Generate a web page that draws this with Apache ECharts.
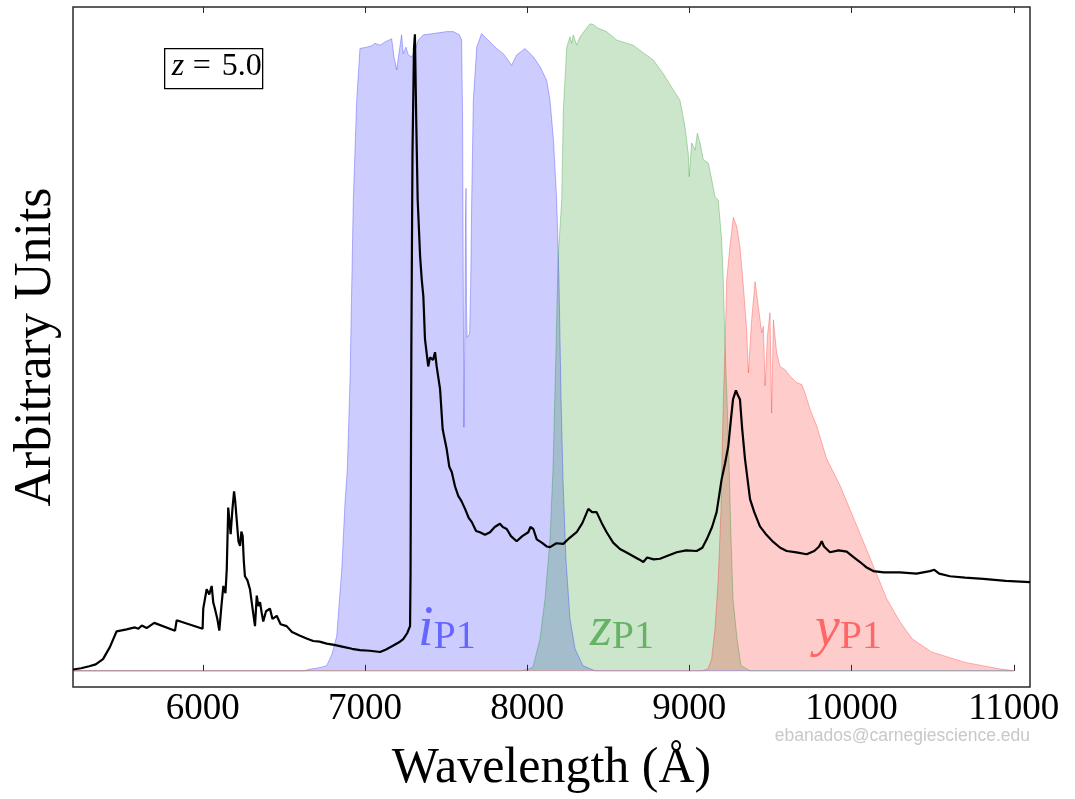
<!DOCTYPE html>
<html>
<head>
<meta charset="utf-8">
<title>Quasar spectrum at z = 5.0 with Pan-STARRS filters</title>
<script src="https://cdn.jsdelivr.net/npm/echarts@6/dist/echarts.min.js"></script>
<style>
  html, body { margin: 0; padding: 0; background: #ffffff; }
  #chart { width: 1075px; height: 799px; }
</style>
</head>
<body>
<div id="chart"></div>
<script>
// Wavelength tick marks (Angstrom)
const wavelengthTicks = [6000, 7000, 8000, 9000, 10000, 11000];

// Composite quasar spectrum redshifted to z = 5.0: [wavelength (A), flux (arbitrary)]
const quasarSpectrum = [
  [5200,0.002],[5250,0.004],[5300,0.007],[5340,0.010],[5385,0.018],[5428,0.037],[5469,0.061],
  [5531,0.064],[5562,0.066],[5582,0.067],[5603,0.065],[5624,0.070],[5654,0.066],[5701,0.074],
  [5829,0.062],[5839,0.078],[5999,0.065],[6003,0.096],[6024,0.126],[6040,0.118],[6055,0.131],
  [6065,0.105],[6075,0.096],[6090,0.080],[6102,0.062],[6115,0.100],[6127,0.131],[6140,0.120],
  [6148,0.157],[6157,0.252],[6165,0.230],[6172,0.211],[6183,0.250],[6193,0.277],[6200,0.262],
  [6209,0.234],[6220,0.200],[6230,0.193],[6238,0.215],[6246,0.208],[6253,0.170],[6260,0.146],
  [6275,0.140],[6291,0.126],[6305,0.100],[6322,0.069],[6333,0.116],[6343,0.100],[6353,0.106],
  [6363,0.090],[6373,0.076],[6390,0.092],[6414,0.096],[6430,0.080],[6456,0.085],[6480,0.072],
  [6517,0.069],[6550,0.060],[6600,0.054],[6640,0.050],[6681,0.046],[6720,0.045],[6764,0.042],
  [6810,0.040],[6866,0.037],[6920,0.034],[6969,0.032],[7030,0.031],[7093,0.029],[7130,0.033],
  [7175,0.039],[7210,0.044],[7236,0.049],[7260,0.058],[7278,0.069],[7281,0.150],[7286,0.500],
  [7293,0.800],[7302,0.960],[7308,0.983],[7316,0.850],[7325,0.727],[7340,0.640],[7350,0.604],
  [7360,0.578],[7370,0.512],[7390,0.470],[7401,0.484],[7420,0.480],[7432,0.492],[7442,0.470],
  [7463,0.435],[7479,0.373],[7504,0.342],[7520,0.315],[7535,0.307],[7555,0.285],[7575,0.270],
  [7595,0.262],[7617,0.250],[7640,0.236],[7658,0.230],[7685,0.216],[7709,0.214],[7740,0.210],
  [7771,0.214],[7800,0.222],[7832,0.227],[7850,0.222],[7874,0.219],[7900,0.208],[7935,0.200],
  [7970,0.208],[8007,0.214],[8020,0.222],[8038,0.219],[8059,0.203],[8090,0.198],[8120,0.192],
  [8141,0.191],[8180,0.197],[8223,0.196],[8260,0.205],[8305,0.214],[8340,0.228],[8377,0.250],
  [8400,0.245],[8428,0.245],[8460,0.228],[8490,0.214],[8530,0.198],[8572,0.188],[8610,0.183],
  [8654,0.177],[8690,0.172],[8716,0.168],[8740,0.175],[8780,0.172],[8819,0.173],[8870,0.178],
  [8922,0.183],[8980,0.186],[9045,0.185],[9080,0.190],[9107,0.203],[9140,0.222],[9168,0.245],
  [9199,0.296],[9220,0.320],[9240,0.347],[9255,0.385],[9269,0.419],[9287,0.433],[9300,0.425],
  [9312,0.419],[9325,0.375],[9343,0.327],[9374,0.265],[9400,0.245],[9435,0.223],[9475,0.210],
  [9517,0.199],[9560,0.190],[9600,0.185],[9660,0.183],[9723,0.180],[9770,0.185],[9800,0.192],
  [9816,0.200],[9830,0.192],[9867,0.183],[9920,0.186],[9970,0.184],[10010,0.176],[10052,0.168],
  [10090,0.160],[10134,0.154],[10200,0.152],[10298,0.152],[10400,0.150],[10483,0.154],
  [10510,0.156],[10540,0.150],[10607,0.146],[10700,0.144],[10812,0.142],[10950,0.139],[11100,0.137]
];

// Pan-STARRS1 i-band transmission (scaled)
const filterI = [
  [5200,0],[6630,0],[6649,0.002],[6723,0.005],[6764,0.008],[6797,0.026],[6826,0.054],[6857,0.157],
  [6877,0.260],[6891,0.311],[6908,0.450],[6928,0.727],[6949,0.881],[6969,0.961],[6980,0.963],
  [7011,0.963],[7040,0.965],[7062,0.969],[7093,0.966],[7123,0.971],[7165,0.976],[7179,0.948],
  [7196,0.928],[7212,0.958],[7226,0.982],[7236,0.953],[7253,0.963],[7267,0.951],[7288,0.948],
  [7308,0.958],[7329,0.974],[7360,0.982],[7421,0.984],[7504,0.987],[7545,0.987],[7582,0.982],
  [7596,0.974],[7602,0.850],[7606,0.600],[7610,0.376],[7615,0.500],[7620,0.700],[7623,0.745],
  [7626,0.560],[7630,0.515],[7645,0.520],[7652,0.600],[7658,0.727],[7668,0.881],[7689,0.963],
  [7719,0.984],[7750,0.976],[7812,0.961],[7853,0.953],[7904,0.935],[7935,0.951],[7987,0.961],
  [8038,0.948],[8079,0.933],[8120,0.912],[8141,0.881],[8162,0.820],[8182,0.727],[8196,0.604],
  [8209,0.419],[8221,0.296],[8239,0.173],[8264,0.080],[8295,0.034],[8344,0.008],[8418,0],[11000,0]
];

// Pan-STARRS1 z-band transmission (scaled)
const filterZ = [
  [5200,0],[7960,0],[8005,0.002],[8036,0.006],[8079,0.049],[8110,0.111],[8141,0.203],[8159,0.311],
  [8178,0.496],[8190,0.635],[8213,0.727],[8223,0.866],[8244,0.963],[8264,0.979],[8274,0.969],
  [8284,0.982],[8305,0.966],[8326,0.979],[8356,0.989],[8387,0.999],[8408,0.998],[8438,0.992],
  [8490,0.987],[8552,0.974],[8614,0.969],[8654,0.966],[8696,0.958],[8778,0.943],[8839,0.922],
  [8901,0.897],[8942,0.881],[8973,0.840],[8993,0.799],[8999,0.763],[9014,0.815],[9035,0.804],
  [9049,0.830],[9066,0.815],[9086,0.789],[9117,0.784],[9138,0.758],[9158,0.732],[9178,0.727],
  [9199,0.666],[9209,0.604],[9220,0.501],[9232,0.419],[9244,0.327],[9257,0.203],[9269,0.111],
  [9294,0.049],[9318,0.008],[9374,0],[11000,0]
];

// Pan-STARRS1 y-band transmission (scaled)
const filterY = [
  [5200,0],[9080,0],[9115,0.003],[9137,0.018],[9158,0.065],[9178,0.142],[9195,0.250],[9201,0.330],
  [9210,0.420],[9220,0.501],[9230,0.604],[9250,0.655],[9271,0.700],[9292,0.686],[9312,0.655],
  [9333,0.594],[9353,0.527],[9364,0.460],[9384,0.542],[9405,0.601],[9425,0.563],[9446,0.522],
  [9456,0.532],[9467,0.440],[9481,0.517],[9497,0.553],[9507,0.398],[9518,0.542],[9538,0.491],
  [9559,0.470],[9590,0.465],[9621,0.455],[9662,0.445],[9693,0.442],[9713,0.429],[9744,0.404],
  [9785,0.378],[9847,0.327],[9929,0.286],[10032,0.224],[10134,0.162],[10217,0.111],[10300,0.075],
  [10375,0.049],[10494,0.029],[10700,0.013],[10911,0.003],[11000,0]
];

// Band names drawn inside each filter
const bandNames = ['i', 'z', 'y'];
const bandSubscript = 'P1';

const SERIF = '"Liberation Serif", "Times New Roman", serif';
const FRAME = '#2a2a2a';

const chart = echarts.init(document.getElementById('chart'), null, { renderer: 'canvas' });

function filterSeries(name, data, rgb) {
  return {
    name: name,
    type: 'line',
    data: data,
    showSymbol: false,
    symbol: 'none',
    silent: true,
    lineStyle: { width: 1, color: 'rgba(' + rgb + ',0.28)' },
    areaStyle: { color: 'rgba(' + rgb + ',0.2)', opacity: 1, origin: 'auto' },
    z: 2
  };
}

const option = {
  animation: false,
  backgroundColor: '#ffffff',
  grid: {
    left: 73, right: 45, top: 7, bottom: 111,
    show: true, borderColor: FRAME, borderWidth: 1.5, backgroundColor: 'transparent'
  },
  xAxis: [
    {
      type: 'value', min: 5200, max: 11100, position: 'bottom',
      name: 'Wavelength (Å)', nameLocation: 'middle', nameGap: 57,
      nameTextStyle: { fontFamily: SERIF, fontSize: 50, color: '#000', lineHeight: 50 },
      axisLine: { show: false },
      splitLine: { show: false },
      axisTick: { show: true, inside: true, length: 6, customValues: wavelengthTicks,
                  lineStyle: { color: FRAME, width: 1 } },
      axisLabel: { show: true, customValues: wavelengthTicks, margin: 4,
                   formatter: function (v) { return String(v); },
                   fontFamily: SERIF, fontSize: 37, lineHeight: 37, color: '#000' }
    },
    {
      type: 'value', min: 5200, max: 11100, position: 'top',
      axisLine: { show: false },
      splitLine: { show: false },
      axisTick: { show: true, inside: true, length: 6, customValues: wavelengthTicks,
                  lineStyle: { color: FRAME, width: 1 } },
      axisLabel: { show: false }
    }
  ],
  yAxis: {
    type: 'value', min: -0.025, max: 1.025,
    name: 'Arbitrary Units', nameLocation: 'middle', nameGap: 11, nameRotate: 90,
    nameTextStyle: { fontFamily: SERIF, fontSize: 52, color: '#000', lineHeight: 52 },
    axisLine: { show: false }, axisTick: { show: false },
    axisLabel: { show: false }, splitLine: { show: false }
  },
  series: [
    filterSeries('i_P1', filterI, '0,0,255'),
    filterSeries('z_P1', filterZ, '0,128,0'),
    filterSeries('y_P1', filterY, '255,0,0'),
    {
      name: 'spectrum',
      type: 'line',
      data: quasarSpectrum,
      showSymbol: false,
      symbol: 'none',
      silent: true,
      lineStyle: { color: '#000', width: 2.2 },
      z: 5
    }
  ]
};

chart.setOption(option);

// Annotations: band labels anchored in data space, redshift box and credit line
const bandLabelAnchors = [[7327, 0.020], [8387, 0.020], [9774, 0.020]];
const bandLabelColors = ['rgba(0,0,255,0.5)', 'rgba(0,128,0,0.5)', 'rgba(255,0,0,0.5)'];

const graphics = bandNames.map(function (b, k) {
  const p = chart.convertToPixel({ gridIndex: 0 }, bandLabelAnchors[k]);
  return {
    type: 'text', x: p[0], y: p[1], z: 10, silent: true,
    style: {
      text: '{m|' + b + '}{s|' + bandSubscript + '}',
      align: 'left', verticalAlign: 'bottom',
      fill: bandLabelColors[k],
      rich: {
        m: { fontFamily: SERIF, fontStyle: 'italic', fontSize: 56, lineHeight: 56,
             verticalAlign: 'bottom', fill: bandLabelColors[k] },
        s: { fontFamily: SERIF, fontSize: 40, lineHeight: 32,
             verticalAlign: 'bottom', fill: bandLabelColors[k] }
      }
    }
  };
});

// Redshift tag: boxed "z = 5.0" with an italic z
graphics.push({
  type: 'group', left: 164, top: 48, z: 10, silent: true,
  children: [
    { type: 'rect', shape: { x: 0, y: 0, width: 98, height: 40 },
      style: { fill: '#ffffff', stroke: '#000', lineWidth: 1.3 } },
    { type: 'text', x: 7, y: 18,
      style: { text: 'z', align: 'left', verticalAlign: 'middle',
               font: 'italic 32px ' + SERIF, fill: '#000' } },
    { type: 'text', x: 28, y: 18,
      style: { text: '=', align: 'left', verticalAlign: 'middle',
               font: 'normal 32px ' + SERIF, fill: '#000' } },
    { type: 'text', x: 57, y: 18,
      style: { text: '5.0', align: 'left', verticalAlign: 'middle',
               font: 'normal 32px ' + SERIF, fill: '#000' } }
  ]
});

graphics.push({
  type: 'text', right: 45, top: 727, z: 10, silent: true,
  style: {
    text: 'ebanados@carnegiescience.edu',
    fontFamily: '"Liberation Sans", Arial, sans-serif', fontSize: 17.5, fill: '#c8c8c8'
  }
});

chart.setOption({ graphic: graphics });
</script>
</body>
</html>
